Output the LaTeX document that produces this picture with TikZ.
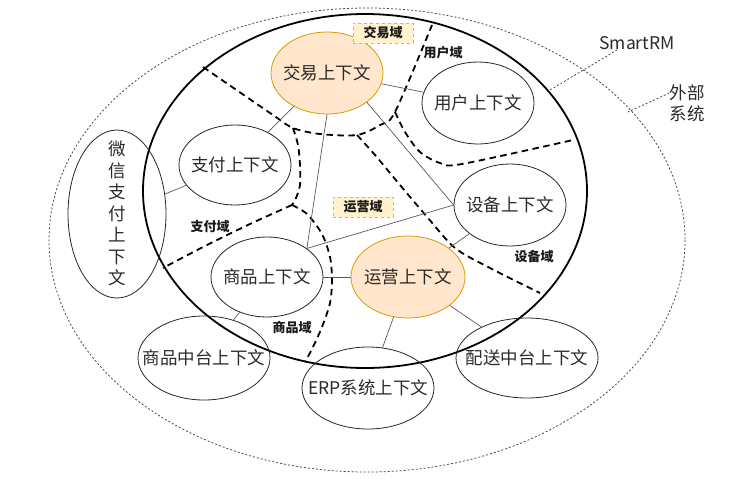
\documentclass[tikz,border=0pt]{standalone}
\usepackage{fontspec}
\setmainfont{Noto Sans CJK SC}
\usetikzlibrary{shapes.geometric}
\definecolor{ctxfill}{HTML}{FFE6CC}
\definecolor{ctxdraw}{HTML}{D79B00}
\definecolor{lblfill}{HTML}{FFF2CC}
\definecolor{lbldraw}{HTML}{D6B656}
\definecolor{txt}{HTML}{2A2A2A}
\newcommand{\zw}[1]{\makebox[0pt]{#1}}
\begin{document}
\begin{tikzpicture}[x=1pt,y=-1pt,
  ctx/.style={ellipse, draw=black!85, line width=0.8pt, inner sep=0pt,
              font=\fontsize{17.5}{20}\selectfont, text=txt},
  hot/.style={ctx, fill=ctxfill, draw=ctxdraw},
  link/.style={draw=black!65, line width=0.7pt},
  dom/.style={line width=1.8pt, dash pattern=on 6.5pt off 4.5pt},
  dlabel/.style={font=\fontsize{13}{15}\selectfont\bfseries, text=black!90, inner sep=1pt},
  dbox/.style={dlabel, draw=lbldraw, fill=lblfill, dashed, minimum width=60pt, minimum height=20pt},
  callout/.style={draw=black!75, line width=0.75pt, dash pattern=on 2pt off 2pt},
  plain/.style={font=\fontsize{17.5}{21}\selectfont, text=txt, inner sep=0pt, align=center}
]
\useasboundingbox (0,0) rectangle (736,485);

% outer system boundary and SmartRM boundary
\draw[callout] (367,240) ellipse [x radius=318, y radius=232];
\draw[line width=1.8pt] (365,191) ellipse [x radius=222, y radius=177];

% domain boundaries
\draw[dom] plot[smooth, tension=0.5] coordinates {(203,67) (273,115) (293,128) (320,134) (357,135) (380,125) (395,112) (432,25)};
\draw[dom] plot[smooth, tension=0.5] coordinates {(395,112) (405,132) (420,152) (440,163) (462,164) (573,140)};
\draw[dom] plot[smooth, tension=0.5] coordinates {(357,135) (375,155) (400,185) (428,218) (455,248) (490,268) (540,293)};
\draw[dom] plot[smooth, tension=0.5] coordinates {(293,128) (298,145) (300,165) (300,185) (296,198) (292,205)};
\draw[dom] plot[smooth, tension=0.5] coordinates {(292,205) (250,224) (207,245) (163,268)};
\draw[dom] plot[smooth, tension=0.5] coordinates {(292,205) (307,214) (322,234) (330,257) (332,280) (330,303) (322,327) (313,347) (305,362)};

% contexts
\node[hot, minimum width=112pt, minimum height=82pt] (jy) at (327,73) {\zw{交易上下文}};
\node[ctx, minimum width=112pt, minimum height=82pt] (yh) at (478,103) {\zw{用户上下文}};
\node[ctx, minimum width=112pt, minimum height=80pt] (zf) at (235,165) {\zw{支付上下文}};
\node[ctx, minimum width=112pt, minimum height=82pt] (sb) at (510,205) {\zw{设备上下文}};
\node[ctx, minimum width=112pt, minimum height=80pt] (sp) at (267,277) {\zw{商品上下文}};
\node[hot, minimum width=114pt, minimum height=82pt] (yy) at (408,277) {\zw{运营上下文}};
\node[ctx, minimum width=132pt, minimum height=84pt] (spzt) at (204,358) {\zw{商品中台上下文}};
\node[ctx, minimum width=132pt, minimum height=82pt] (erp) at (368,388) {\zw{ERP系统上下文}};
\node[ctx, minimum width=142pt, minimum height=80pt] (ps) at (527,358) {\zw{配送中台上下文}};
\node[ctx, minimum width=98pt, minimum height=168pt] (wx) at (117,214)
  {\zw{\raisebox{-4pt}[0pt][0pt]{\parbox[c]{1em}{\centering\fontsize{17.5}{21.5}\selectfont 微\\信\\支\\付\\上\\下\\文}}}};

% relations
\draw[link] (jy) -- (yh);
\draw[link] (jy) -- (zf);
\draw[link] (jy.south) -- (sp.north east);
\draw[link] (jy.south east) -- (sb.west);
\draw[link] (sp.north east) -- (sb.west);
\draw[link] (sb) -- (yy);
\draw[link] (sp) -- (yy);
\draw[link] (yy) -- (erp);
\draw[link] (yy) -- (ps);
\draw[link] (sp) -- (spzt);
\draw[link] (zf) -- (wx);

% domain labels
\node[dbox] (jyd) at (383,33) {交易域};
\node[dlabel] (yhd) at (443,53) {用户域};
\node[dlabel] (zfd) at (210,227) {支付域};
\node[dbox] (yyd) at (363,207) {运营域};
\node[dlabel] (spd) at (292,328) {商品域};
\node[dlabel] (sbd) at (534,257) {设备域};

% callouts
\node[plain] (smart) at (637,43) {SmartRM};
\coordinate (smartend) at (550,90);
\draw[callout] ([xshift=18pt]smart.south west) -- (smartend);
\node[plain] (wb) at (687,103) {外部\\系统};
\coordinate (wbend) at (628,112);
\draw[callout] ([yshift=10pt]wb.west) -- (wbend);
\end{tikzpicture}
\end{document}
